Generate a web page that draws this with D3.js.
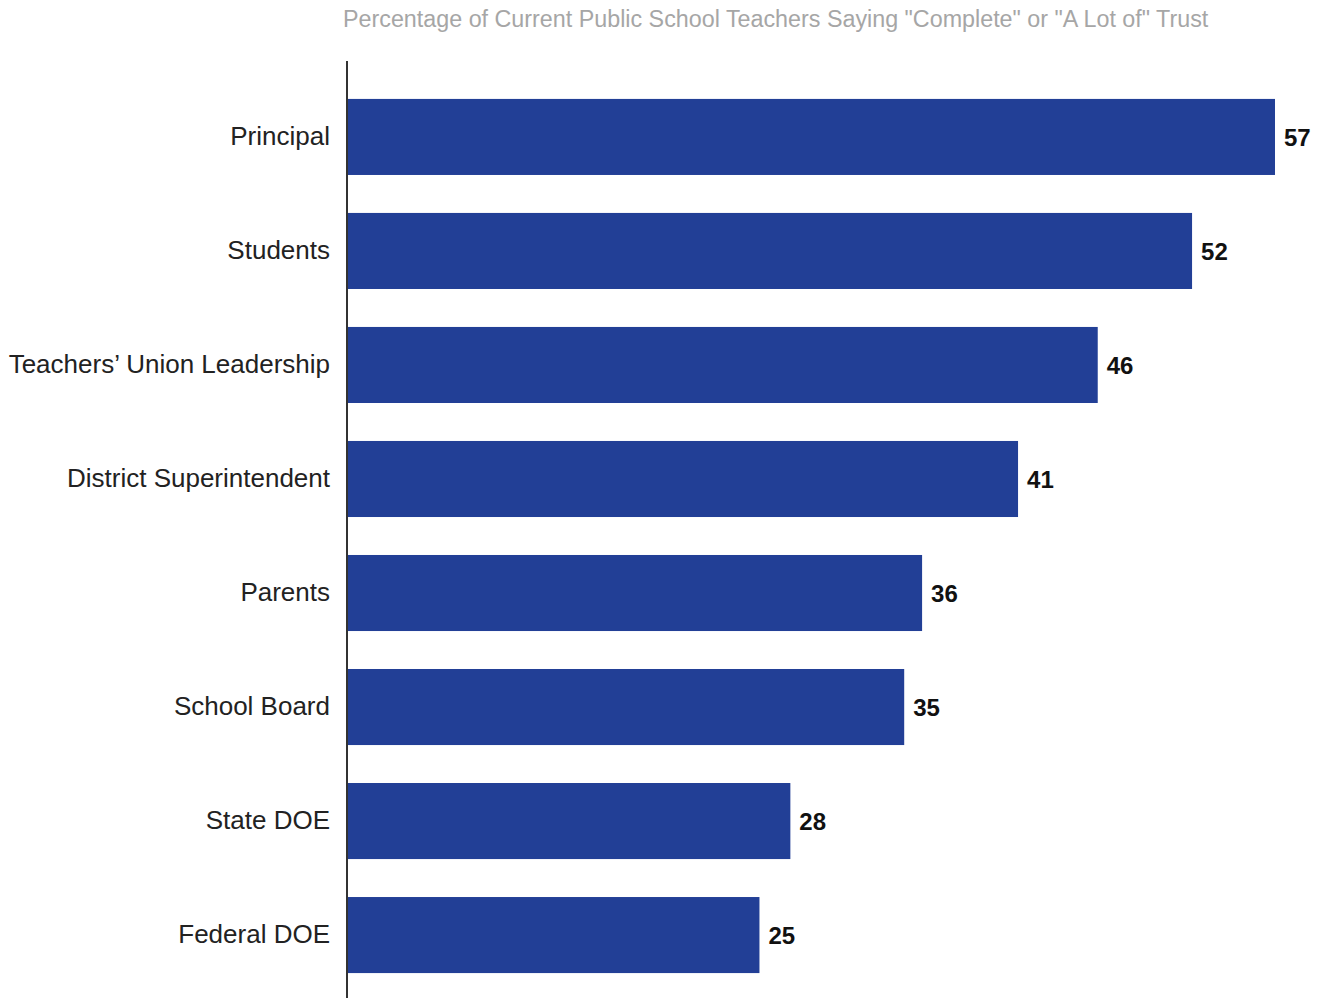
<!DOCTYPE html>
<html>
<head>
<meta charset="utf-8">
<script src="https://cdn.jsdelivr.net/npm/d3@7"></script>
<style>
  html, body { margin: 0; padding: 0; background: #fff; }
  svg { display: block; }
</style>
</head>
<body>
<svg id="chart" width="1322" height="998"></svg>
<script>
const categories = ["Principal", "Students", "Teachers’ Union Leadership", "District Superintendent", "Parents", "School Board", "State DOE", "Federal DOE"];
const values = [57, 51.9, 46.1, 41.2, 35.3, 34.2, 27.2, 25.3];
const valueLabels = ["57", "52", "46", "41", "36", "35", "28", "25"];
const title = "Percentage of Current Public School Teachers Saying \"Complete\" or \"A Lot of\" Trust";

const svg = d3.select("#chart");
const axisX = 347;
const x = d3.scaleLinear().domain([0, 57]).range([348, 1275]);
const y = d3.scaleBand().domain(categories).range([80, 992]).paddingInner(0.333).paddingOuter(0.166);

const data = categories.map((c, i) => ({ c, v: values[i], label: valueLabels[i] }));

svg.append("text")
  .attr("x", 343).attr("y", 27)
  .attr("font-family", "Liberation Sans, Arial, sans-serif")
  .attr("font-size", 23.3)
  .attr("fill", "#a6a6a6")
  .text(title);

svg.selectAll("rect.bar").data(data).join("rect")
  .attr("class", "bar")
  .attr("x", x(0))
  .attr("y", d => y(d.c))
  .attr("width", d => x(d.v) - x(0))
  .attr("height", y.bandwidth())
  .attr("fill", "#223f96");

svg.append("line")
  .attr("x1", axisX).attr("x2", axisX)
  .attr("y1", 61).attr("y2", 998)
  .attr("stroke", "#333").attr("stroke-width", 2);

svg.selectAll("text.cat").data(data).join("text")
  .attr("class", "cat")
  .attr("x", 330)
  .attr("y", d => y(d.c) + y.bandwidth() / 2 - 1)
  .attr("dy", "0.35em")
  .attr("text-anchor", "end")
  .attr("font-family", "Liberation Sans, Arial, sans-serif")
  .attr("font-size", 26)
  .attr("fill", "#222")
  .text(d => d.c);

svg.selectAll("text.val").data(data).join("text")
  .attr("class", "val")
  .attr("x", d => x(d.v) + 9)
  .attr("y", d => y(d.c) + y.bandwidth() / 2 + 1)
  .attr("dy", "0.35em")
  .attr("font-family", "Liberation Sans, Arial, sans-serif")
  .attr("font-weight", "bold")
  .attr("font-size", 24)
  .attr("fill", "#111")
  .text(d => d.label);
</script>
</body>
</html>
